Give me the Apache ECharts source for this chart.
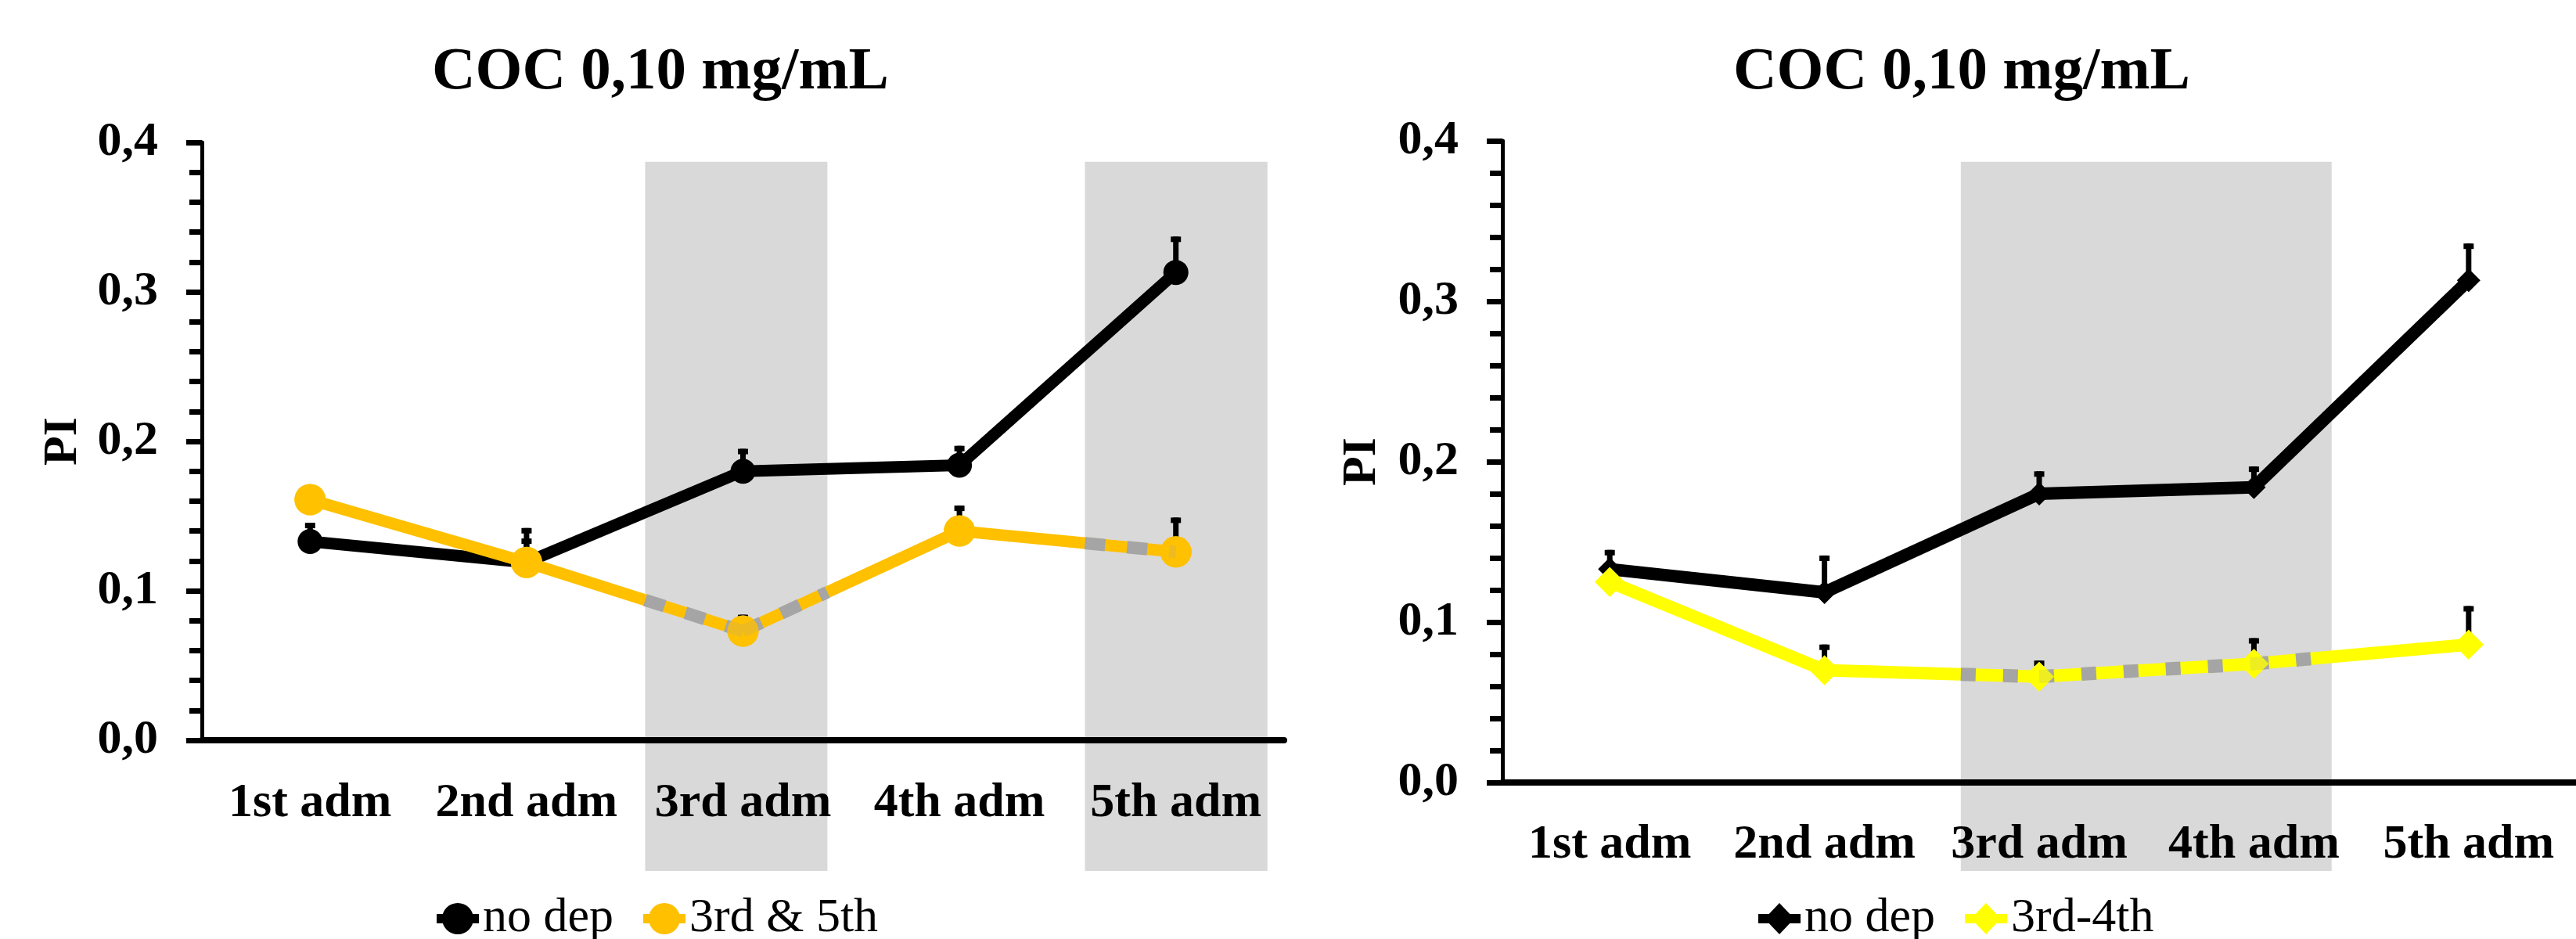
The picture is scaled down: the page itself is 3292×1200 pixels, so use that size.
<!DOCTYPE html>
<html><head><meta charset="utf-8">
<script src="https://cdn.jsdelivr.net/npm/echarts@6/dist/echarts.min.js"></script>
<style>html,body{margin:0;padding:0;background:#fff}#c{width:3292px;height:1200px}</style>
</head><body><div id="c"></div>
<script>
// ---- data ----
const categories = ['1st adm', '2nd adm', '3rd adm', '4th adm', '5th adm'];
const yTickLabels = ['0,0', '0,1', '0,2', '0,3', '0,4'];
const titles = ['COC 0,10 mg/mL', 'COC 0,10 mg/mL'];
const yAxisName = 'PI';
const leftNames = ['no dep', '3rd & 5th'];
const rightNames = ['no dep ', '3rd-4th'];
const leftNoDep = [0.133, 0.119, 0.180, 0.184, 0.313];
const leftNoDepErr = [0.0125, 0.023, 0.015, 0.013, 0.024];
const left35 = [0.161, 0.119, 0.073, 0.140, 0.126];
const left35Err = [0.008, 0.016, 0.011, 0.017, 0.023];
const rightNoDep = [0.133, 0.1185, 0.180, 0.184, 0.313];
const rightNoDepErr = [0.012, 0.023, 0.014, 0.013, 0.023];
const right34 = [0.125, 0.070, 0.066, 0.074, 0.086];
const right34Err = [0.008, 0.016, 0.010, 0.016, 0.024];
const leftBands = [[2, 2], [4, 4]];   // category index ranges of grey periods
const rightBands = [[2, 3]];

// ---- style ----
const FONT = "'Liberation Serif','Times New Roman',serif";
const BAND_TOP = 0.387;
const BLACK = '#000000', ORANGE = '#FFC000', YELLOW = '#FFFF00', GREY = '#D9D9D9', DASH = '#A5A5A5';
const leftBandPads = [[0.452, 0.39], [0.42, 0.423]];   // fraction of a category width
const rightBandPads = [[0.365, 0.362]];
const ICON_CIRCLE = 'path://M0,14H54V26H0Z M27,0A20,20 0 1,1 27,40A20,20 0 1,1 27,0Z';
const ICON_DIAMOND = 'path://M0,14H54V26H0Z M27,0L46,20L27,40L8,20Z';

function bandSeries(k, bands, pads, bottomPx) {
  return {
    type: 'custom', xAxisIndex: k, yAxisIndex: k, z: 0, silent: true, clip: false,
    data: bands.map((b, j) => [b[0], b[1], j]),
    encode: { x: 0 },
    renderItem(params, api) {
      const s = api.value(0), e = api.value(1), j = api.value(2);
      const cw = api.size([1, 0])[0];
      const x0 = api.coord([s, 0])[0] - pads[j][0] * cw;
      const x1 = api.coord([e, 0])[0] + pads[j][1] * cw;
      const yTop = api.coord([0, BAND_TOP])[1];
      const y0 = api.coord([0, 0])[1];
      return { type: 'rect', shape: { x: x0, y: yTop, width: x1 - x0, height: y0 + bottomPx - yTop }, style: { fill: GREY } };
    }
  };
}
function errSeries(k, vals, errs) {
  return {
    type: 'custom', xAxisIndex: k, yAxisIndex: k, z: 1, silent: true, clip: false,
    data: vals.map((v, i) => [i, v, errs[i]]),
    encode: { x: 0, y: 1 },
    renderItem(params, api) {
      const x = api.value(0), v = api.value(1), e = api.value(2);
      const p0 = api.coord([x, v]), p1 = api.coord([x, v + e]);
      return { type: 'group', children: [
        { type: 'rect', shape: { x: p0[0] - 3.5, y: p1[1], width: 7, height: p0[1] - p1[1] }, style: { fill: BLACK } },
        { type: 'rect', shape: { x: p0[0] - 6.5, y: p1[1], width: 13, height: 7 }, style: { fill: BLACK } }
      ] };
    }
  };
}
function overlaySeries(k, vals, bands, pads, dash, width) {
  return {
    type: 'custom', xAxisIndex: k, yAxisIndex: k, z: 3, silent: true, clip: false,
    data: vals.slice(0, -1).map((v, i) => [i, v]),
    encode: { x: 0, y: 1 },
    renderItem(params, api) {
      const i = api.value(0);
      const a = api.coord([i, vals[i]]), b = api.coord([i + 1, vals[i + 1]]);
      const cw = api.size([1, 0])[0];
      const children = [];
      bands.forEach(([s, e], j) => {
        const bx0 = api.coord([s, 0])[0] - pads[j][0] * cw, bx1 = api.coord([e, 0])[0] + pads[j][1] * cw;
        const x0 = Math.max(a[0], bx0), x1 = Math.min(b[0], bx1);
        if (x1 > x0) {
          const t0 = (x0 - a[0]) / (b[0] - a[0]), t1 = (x1 - a[0]) / (b[0] - a[0]);
          children.push({ type: 'line',
            shape: { x1: x0, y1: a[1] + t0 * (b[1] - a[1]), x2: x1, y2: a[1] + t1 * (b[1] - a[1]) },
            style: { stroke: DASH, lineWidth: width, lineDash: dash, lineCap: 'butt' } });
        }
      });
      return { type: 'group', children };
    }
  };
}
function lineSeries(k, name, vals, color, symbol, size, width, z) {
  return { type: 'line', name, xAxisIndex: k, yAxisIndex: k, data: vals, z,
    symbol, symbolSize: size, showSymbol: true,
    lineStyle: { color, width }, itemStyle: { color } };
}
function markerSeries(k, vals, color, symbol, size) {
  return { type: 'scatter', name: '_m' + k, xAxisIndex: k, yAxisIndex: k, data: vals, z: 4,
    symbol, symbolSize: size, itemStyle: { color }, silent: true };
}

const xAxisBase = (k, margin) => ({
  type: 'category', gridIndex: k, data: categories, boundaryGap: true, z: 10,
  axisLine: { lineStyle: { color: BLACK, width: 8 } },
  axisTick: { show: false },
  axisLabel: { color: BLACK, fontFamily: FONT, fontWeight: 'bold', fontSize: 62, margin, interval: 0 }
});
const yAxisBase = (k, gap) => ({
  type: 'value', gridIndex: k, min: 0, max: 0.4, interval: 0.1, z: 10,
  name: yAxisName, nameLocation: 'middle', nameGap: gap,
  nameTextStyle: { color: BLACK, fontFamily: FONT, fontWeight: 'bold', fontSize: 62 },
  axisLine: { show: true, lineStyle: { color: BLACK, width: 5 } },
  axisTick: { show: true, length: 20, lineStyle: { color: BLACK, width: 7 } },
  minorTick: { show: true, splitNumber: 5, length: 16, lineStyle: { color: BLACK, width: 7 } },
  splitLine: { show: false },
  axisLabel: { color: BLACK, fontFamily: FONT, fontWeight: 'bold', fontSize: 62, margin: 56,
    formatter: v => yTickLabels[Math.round(v * 10)] }
});
const legendBase = (names, icon, left) => ({
  data: names.map(n => ({ name: n, icon })), left, top: 1138, orient: 'horizontal',
  itemWidth: 54, itemHeight: 40, itemGap: 38,
  formatter: n => n.trim(),
  textStyle: { color: BLACK, fontFamily: FONT, fontSize: 62 }
});

const chart = echarts.init(document.getElementById('c'), null, { renderer: 'canvas' });
chart.setOption({
  animation: false,
  backgroundColor: '#ffffff',
  title: [
    { text: titles[0], left: 547, top: 50, textStyle: { color: BLACK, fontFamily: FONT, fontWeight: 'bold', fontSize: 77 } },
    { text: titles[1], left: 2210, top: 50, textStyle: { color: BLACK, fontFamily: FONT, fontWeight: 'bold', fontSize: 77 } }
  ],
  grid: [
    { left: 258, top: 182, width: 1383, height: 764 },
    { left: 1920, top: 180, width: 1380, height: 820 }
  ],
  xAxis: [xAxisBase(0, 50), xAxisBase(1, 49)],
  yAxis: [yAxisBase(0, 146), yAxisBase(1, 148)],
  legend: [legendBase(leftNames, ICON_CIRCLE, 553), legendBase(rightNames, ICON_DIAMOND, 2242)],
  series: [
    bandSeries(0, leftBands, leftBandPads, 167),
    bandSeries(1, rightBands, rightBandPads, 113),
    errSeries(0, leftNoDep, leftNoDepErr),
    errSeries(0, left35, left35Err),
    errSeries(1, rightNoDep, rightNoDepErr),
    errSeries(1, right34, right34Err),
    lineSeries(0, leftNames[0], leftNoDep, BLACK, 'circle', 32, 15, 2),
    lineSeries(0, leftNames[1], left35, ORANGE, 'circle', 40, 15, 2),
    overlaySeries(0, left35, leftBands, leftBandPads, [26, 28], 16),
    markerSeries(0, left35, ORANGE, 'circle', 40),
    lineSeries(1, rightNames[0], rightNoDep, BLACK, 'diamond', 30, 16, 2),
    lineSeries(1, rightNames[1], right34, YELLOW, 'diamond', 38, 16, 2),
    overlaySeries(1, right34, rightBands, rightBandPads, [19, 35], 17),
    markerSeries(1, right34, YELLOW, 'diamond', 38)
  ]
});
</script>
</body></html>
